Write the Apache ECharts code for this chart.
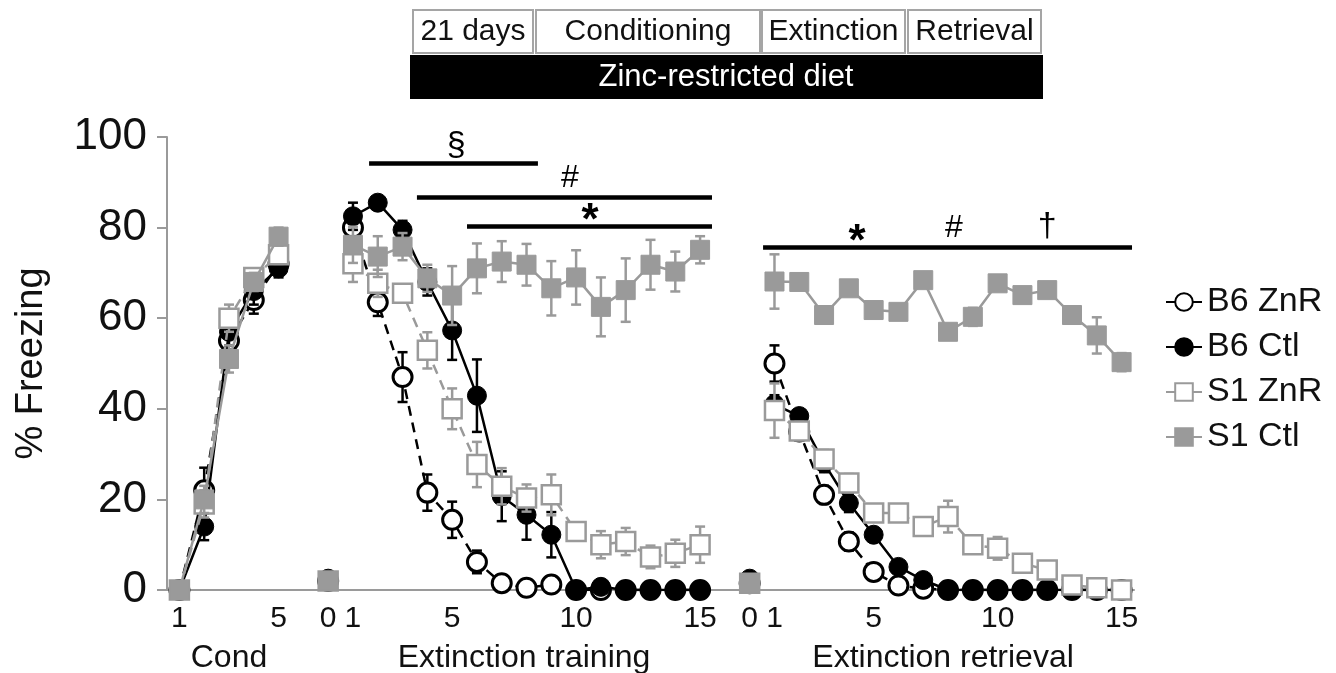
<!DOCTYPE html>
<html>
<head>
<meta charset="utf-8">
<script src="https://cdn.jsdelivr.net/npm/echarts@6/dist/echarts.min.js"></script>
<style>
html,body{margin:0;padding:0;background:#fff;}
#chart{width:1336px;height:673px;}
</style>
</head>
<body>
<div id="chart"></div>
<script>
// ---------- DATA ----------
const seriesNames = ['B6 ZnR', 'B6 Ctl', 'S1 ZnR', 'S1 Ctl'];
const condTrials = [1, 2, 3, 4, 5];
const extTrials = [1, 2, 3, 4, 5, 6, 7, 8, 9, 10, 11, 12, 13, 14, 15];
const condTickLabels = ['1', '5'];
const extTickLabels = ['0', '1', '5', '10', '15'];
const phaseTitles = ['Cond', 'Extinction training', 'Extinction retrieval'];
const topBoxes = ['21 days', 'Conditioning', 'Extinction', 'Retrieval'];
const dietLabel = 'Zinc-restricted diet';

// Conditioning (trials 1-5)
const b6ZnR_cond = [0, 22, 55, 64, 72];
const b6Ctl_cond = [0, 14, 57, 66, 71];
const s1ZnR_cond = [0, 19, 60, 69, 74];
const s1Ctl_cond = [0, 20, 51, 68, 78];
const b6ZnR_condSem = [0, 5, 3, 3, 2];
const b6Ctl_condSem = [0, 3, 3, 3, 2];
const s1ZnR_condSem = [0, 3, 3, 2, 2];
const s1Ctl_condSem = [0, 3, 3, 2, 2];

// Baseline (trial 0) of extinction training / retrieval
const baseET = [2, 2.5, 2, 2];      // B6 ZnR, B6 Ctl, S1 ZnR, S1 Ctl
const baseER = [1.5, 2.5, 1.5, 1.5];

// Extinction training (trials 1-15)
const b6ZnR_et = [80, 63.5, 47, 21.5, 15.5, 6.2, 1.5, 0.5, 1.2, 0, 0, 0, 0, 0, 0];
const b6Ctl_et = [82.5, 85.5, 79.5, 68, 57.3, 42.9, 20.7, 16.6, 12.2, 0, 0.7, 0, 0, 0, 0];
const s1ZnR_et = [72, 67.7, 65.5, 52.9, 40, 27.7, 22.9, 20.3, 21, 12.9, 10, 10.7, 7.3, 8.1, 10];
const s1Ctl_et = [76.2, 73.6, 75.8, 68.8, 65, 71, 72.5, 71.8, 66.6, 69, 62.5, 66.2, 71.8, 70.3, 75.1];
const b6ZnR_etSem = [3, 3, 5.5, 4, 4, 2.5, 1, 0.5, 1, 0, 0, 0, 0, 0, 0];
const b6Ctl_etSem = [3, 1.5, 2, 3, 6.5, 8, 5.5, 5.5, 5, 0, 0.5, 0, 0, 0, 0];
const s1ZnR_etSem = [4, 3, 2, 4, 4.5, 5, 4, 3, 4.5, 2, 3, 3, 2.5, 3, 4];
const s1Ctl_etSem = [4, 4.5, 3, 3, 6.5, 5.5, 4.5, 4.6, 6, 6, 6.5, 7, 5.5, 4.4, 3];

// Extinction retrieval (trials 1-15)
const b6ZnR_er = [50, 35, 21, 10.7, 4, 1, 0.3, 0, 0, 0, 0, 0, 0, 0, 0];
const b6Ctl_er = [41, 38.4, 28, 19.2, 12.2, 5.1, 2.2, 0, 0, 0, 0, 0, 0, 0, 0];
const s1ZnR_er = [39.6, 35.1, 28.9, 23.6, 17, 17, 14, 16.2, 10, 9.2, 5.9, 4.4, 1.1, 0.5, 0];
const s1Ctl_er = [68.1, 68, 60.7, 66.6, 61.8, 61.4, 68.4, 57, 60.3, 67.7, 65.1, 66.2, 60.7, 56.2, 50.3];
const b6ZnR_erSem = [4, 2, 2, 2, 1, 0.5, 0.5, 0, 0, 0, 0, 0, 0, 0, 0];
const b6Ctl_erSem = [2, 1.5, 2, 2, 1.5, 1, 1, 0, 0, 0, 0, 0, 0, 0, 0];
const s1ZnR_erSem = [6, 2, 2, 2, 1.5, 1.5, 2, 3.5, 1.5, 2.5, 1, 1, 1, 0.5, 0.5];
const s1Ctl_erSem = [6, 1.5, 1.5, 1, 1.5, 1.5, 1.5, 1, 2, 1, 1, 1, 1.5, 4, 2];

// Significance bars: [xStart, xEnd, y] in axis slots, marks: [text, x, y, size, weight]
const sigBars = [[7.65, 14.46, 94.3], [9.58, 21.48, 86.8], [11.6, 21.48, 80.2], [23.54, 38.42, 75.6]];
const sigMarks = [['§', 11.16, 98.0, 34, 'normal'], ['#', 15.75, 91.0, 32, 'normal'], ['*', 16.56, 81.2, 44, 'bold'],
                  ['*', 27.33, 76.6, 44, 'bold'], ['#', 31.24, 79.8, 32, 'normal'], ['†', 35.0, 80.2, 34, 'normal']];

// ---------- POSITIONS on the continuous axis ----------
const posCond = t => t - 1;
const posET = t => 6 + t;
const posER = t => 23 + t;

function buildLine(cond, b0, et, b1, er) {
  const d = [];
  condTrials.forEach((t, i) => d.push([posCond(t), cond[i]]));
  d.push([5, '-']);
  d.push([posET(0), b0]);
  d.push([posET(0) + 0.5, '-']);
  extTrials.forEach((t, i) => d.push([posET(t), et[i]]));
  d.push([22, '-']);
  d.push([posER(0), b1]);
  d.push([posER(0) + 0.5, '-']);
  extTrials.forEach((t, i) => d.push([posER(t), er[i]]));
  return d;
}
function buildErr(cond, cs, et, es, er, rs) {
  const d = [];
  condTrials.forEach((t, i) => d.push([posCond(t), cond[i], cs[i]]));
  extTrials.forEach((t, i) => d.push([posET(t), et[i], es[i]]));
  extTrials.forEach((t, i) => d.push([posER(t), er[i], rs[i]]));
  return d;
}

const groups = [
  {name: 'B6 ZnR', line: buildLine(b6ZnR_cond, baseET[0], b6ZnR_et, baseER[0], b6ZnR_er),
   err: buildErr(b6ZnR_cond, b6ZnR_condSem, b6ZnR_et, b6ZnR_etSem, b6ZnR_er, b6ZnR_erSem),
   color: '#000', fill: '#fff', symbol: 'circle', dash: [10, 7], bw: 3},
  {name: 'B6 Ctl', line: buildLine(b6Ctl_cond, baseET[1], b6Ctl_et, baseER[1], b6Ctl_er),
   err: buildErr(b6Ctl_cond, b6Ctl_condSem, b6Ctl_et, b6Ctl_etSem, b6Ctl_er, b6Ctl_erSem),
   color: '#000', fill: '#000', symbol: 'circle', dash: 'solid', bw: 1},
  {name: 'S1 ZnR', line: buildLine(s1ZnR_cond, baseET[2], s1ZnR_et, baseER[2], s1ZnR_er),
   err: buildErr(s1ZnR_cond, s1ZnR_condSem, s1ZnR_et, s1ZnR_etSem, s1ZnR_er, s1ZnR_erSem),
   color: '#9a9a9a', fill: '#fff', symbol: 'rect', dash: [10, 7], bw: 2.5},
  {name: 'S1 Ctl', line: buildLine(s1Ctl_cond, baseET[3], s1Ctl_et, baseER[3], s1Ctl_er),
   err: buildErr(s1Ctl_cond, s1Ctl_condSem, s1Ctl_et, s1Ctl_etSem, s1Ctl_er, s1Ctl_erSem),
   color: '#9a9a9a', fill: '#9a9a9a', symbol: 'rect', dash: 'solid', bw: 1}
];

const labelMap = {};
labelMap[posCond(1)] = condTickLabels[0];
labelMap[posCond(5)] = condTickLabels[1];
[posET, posER].forEach(f => {
  [0, 1, 5, 10, 15].forEach((t, k) => { labelMap[f(t)] = extTickLabels[k]; });
});
const labelPositions = Object.keys(labelMap).map(Number).sort((a, b) => a - b);

const FONT = '"Liberation Sans", Arial, Helvetica, sans-serif';
const chart = echarts.init(document.getElementById('chart'), null, {renderer: 'canvas'});

const series = [];
groups.forEach((g, gi) => {
  series.push({
    type: 'custom', name: 'err' + gi, z: 1 + gi * 2, silent: true,
    data: g.err, encode: {x: 0, y: 1},
    renderItem: function (params, api) {
      const x = api.value(0), y = api.value(1), e = api.value(2);
      if (!e) return null;
      const top = api.coord([x, Math.min(100, y + e)]);
      const bot = api.coord([x, Math.max(0, y - e)]);
      const hw = 5;
      const st = {stroke: g.color, lineWidth: 2.5};
      return {type: 'group', children: [
        {type: 'line', shape: {x1: top[0], y1: top[1], x2: bot[0], y2: bot[1]}, style: st},
        {type: 'line', shape: {x1: top[0] - hw, y1: top[1], x2: top[0] + hw, y2: top[1]}, style: st},
        {type: 'line', shape: {x1: bot[0] - hw, y1: bot[1], x2: bot[0] + hw, y2: bot[1]}, style: st}
      ]};
    }
  });
  series.push({
    type: 'line', name: g.name, z: 2 + gi * 2, data: g.line, connectNulls: false,
    showAllSymbol: true, symbol: g.symbol, symbolSize: 19,
    lineStyle: {color: g.color, width: 2.5, type: g.dash},
    itemStyle: {color: g.fill, borderColor: g.color, borderWidth: g.bw},
    emphasis: {disabled: true}, animation: false
  });
});
series.push({
  type: 'line', name: 'sig', data: [], z: 20, silent: true,
  markLine: {
    silent: true, symbol: ['none', 'none'], animation: false,
    label: {show: false},
    lineStyle: {color: '#000', width: 4.5, type: 'solid'},
    data: sigBars.map(b => [{coord: [b[0], b[2]]}, {coord: [b[1], b[2]]}])
  }
});

chart.setOption({
  animation: false,
  textStyle: {fontFamily: FONT},
  grid: {left: 167, right: 202, top: 137, bottom: 83},
  xAxis: {
    type: 'value', min: -0.5, max: 38.5,
    axisLine: {show: true, onZero: false, lineStyle: {color: '#9a9a9a', width: 2}},
    axisTick: {show: false},
    splitLine: {show: false},
    axisLabel: {
      customValues: labelPositions, margin: 14,
      fontSize: 30, color: '#111', fontFamily: FONT,
      formatter: v => (labelMap[v] !== undefined ? labelMap[v] : '')
    }
  },
  yAxis: {
    type: 'value', min: 0, max: 100, interval: 20,
    name: '% Freezing', nameLocation: 'middle', nameGap: 116,
    nameTextStyle: {fontSize: 38, color: '#111', fontFamily: FONT},
    axisLine: {show: true, onZero: false, lineStyle: {color: '#9a9a9a', width: 2}},
    axisTick: {show: true, length: 10, lineStyle: {color: '#9a9a9a', width: 2}},
    splitLine: {show: false},
    axisLabel: {fontSize: 44, color: '#111', margin: 20, fontFamily: FONT}
  },
  legend: {
    data: seriesNames, orient: 'vertical', left: 1160, top: 280,
    itemWidth: 36, itemHeight: 22, itemGap: 11,
    textStyle: {fontSize: 34, color: '#111', fontFamily: FONT},
    lineStyle: {type: 'solid'}, selectedMode: false
  },
  series: series
});

// ---------- annotations (text + top boxes) ----------
const px = (x, y) => chart.convertToPixel({gridIndex: 0}, [x, y]);
const graphics = [];
sigMarks.forEach(m => {
  const p = px(m[1], m[2]);
  graphics.push({type: 'text', x: p[0], y: p[1], silent: true,
    style: {text: m[0], font: m[4] + ' ' + m[3] + 'px ' + FONT, fill: '#000', align: 'center', verticalAlign: 'middle'}});
});
const titleCenters = [2, 13.9, 30.8];
phaseTitles.forEach((t, i) => {
  const p = px(titleCenters[i], 0);
  graphics.push({type: 'text', x: p[0], y: 658, silent: true,
    style: {text: t, font: '32px ' + FONT, fill: '#111', align: 'center', verticalAlign: 'middle'}});
});
const boxEdges = [[413, 533], [536, 760], [762, 905], [908, 1041]];
topBoxes.forEach((t, i) => {
  const [a, b] = boxEdges[i];
  graphics.push({type: 'rect', shape: {x: a, y: 10, width: b - a, height: 43}, silent: true,
    style: {fill: '#fff', stroke: '#a5a5a5', lineWidth: 2}});
  graphics.push({type: 'text', x: (a + b) / 2, y: 32, silent: true,
    style: {text: t, font: '30px ' + FONT, fill: '#111', align: 'center', verticalAlign: 'middle'}});
});
graphics.push({type: 'rect', shape: {x: 410, y: 55, width: 633, height: 44}, silent: true, style: {fill: '#000'}});
graphics.push({type: 'text', x: 726, y: 77, silent: true,
  style: {text: dietLabel, font: '31px ' + FONT, fill: '#fff', align: 'center', verticalAlign: 'middle'}});
chart.setOption({graphic: graphics});
</script>
</body>
</html>
